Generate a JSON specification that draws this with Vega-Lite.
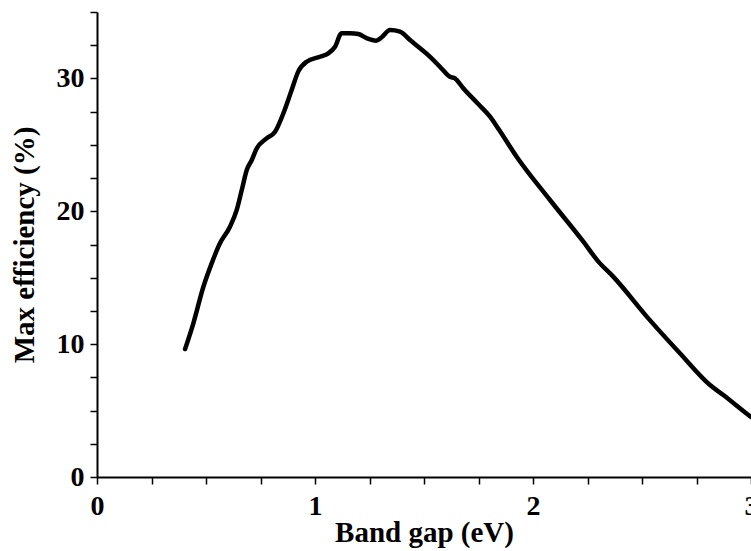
{
  "$schema": "https://vega.github.io/schema/vega-lite/v6.json",
  "autosize": "none",
  "padding": {"left": 97, "top": 12, "right": 0, "bottom": 74},
  "width": 654,
  "height": 465,
  "background": "white",
  "config": {"view": {"stroke": null}},
  "data": {"values": [
    {"gap": 0.404, "eff": 9.63},
    {"gap": 0.442, "eff": 11.57},
    {"gap": 0.488, "eff": 14.32},
    {"gap": 0.526, "eff": 16.08},
    {"gap": 0.564, "eff": 17.59},
    {"gap": 0.610, "eff": 18.84},
    {"gap": 0.641, "eff": 20.10},
    {"gap": 0.664, "eff": 21.60},
    {"gap": 0.687, "eff": 23.11},
    {"gap": 0.710, "eff": 23.86},
    {"gap": 0.733, "eff": 24.74},
    {"gap": 0.778, "eff": 25.49},
    {"gap": 0.817, "eff": 25.99},
    {"gap": 0.855, "eff": 27.38},
    {"gap": 0.893, "eff": 29.13},
    {"gap": 0.923, "eff": 30.51},
    {"gap": 0.962, "eff": 31.26},
    {"gap": 1.023, "eff": 31.63},
    {"gap": 1.061, "eff": 31.89},
    {"gap": 1.092, "eff": 32.39},
    {"gap": 1.122, "eff": 33.40},
    {"gap": 1.161, "eff": 33.40},
    {"gap": 1.199, "eff": 33.34},
    {"gap": 1.238, "eff": 33.02},
    {"gap": 1.280, "eff": 32.84},
    {"gap": 1.306, "eff": 33.10},
    {"gap": 1.344, "eff": 33.64},
    {"gap": 1.390, "eff": 33.52},
    {"gap": 1.436, "eff": 32.89},
    {"gap": 1.482, "eff": 32.27},
    {"gap": 1.528, "eff": 31.63},
    {"gap": 1.573, "eff": 30.88},
    {"gap": 1.619, "eff": 30.13},
    {"gap": 1.642, "eff": 30.01},
    {"gap": 1.680, "eff": 29.26},
    {"gap": 1.742, "eff": 28.19},
    {"gap": 1.803, "eff": 27.12},
    {"gap": 1.845, "eff": 26.12},
    {"gap": 1.925, "eff": 24.11},
    {"gap": 2.078, "eff": 20.85},
    {"gap": 2.231, "eff": 17.71},
    {"gap": 2.300, "eff": 16.21},
    {"gap": 2.368, "eff": 15.08},
    {"gap": 2.522, "eff": 12.07},
    {"gap": 2.674, "eff": 9.31},
    {"gap": 2.812, "eff": 6.92},
    {"gap": 2.873, "eff": 6.17},
    {"gap": 2.988, "eff": 4.67},
    {"gap": 3.0, "eff": 4.52}
  ]},
  "mark": {"type": "line", "color": "black", "strokeWidth": 4.5, "strokeCap": "round", "strokeJoin": "round", "interpolate": "monotone", "clip": true},
  "encoding": {
    "x": {
      "field": "gap", "type": "quantitative",
      "scale": {"domain": [0, 3], "nice": false, "zero": false},
      "axis": {
        "title": "Band gap (eV)",
        "values": [0, 0.25, 0.5, 0.75, 1, 1.25, 1.5, 1.75, 2, 2.25, 2.5, 2.75, 3],
        "labelExpr": "datum.value % 1 === 0 ? format(datum.value, 'd') : ''",
        "grid": false,
        "domainColor": "black", "domainWidth": 2,
        "tickColor": "black", "tickWidth": 1.5, "tickSize": 7,
        "labelFont": "Liberation Serif", "labelFontWeight": "bold", "labelFontSize": 28, "labelColor": "black",
        "labelPadding": 8, "labelFlush": false, "labelOverlap": false,
        "titleFont": "Liberation Serif", "titleFontWeight": "bold", "titleFontSize": 29, "titleColor": "black",
        "titlePadding": -2
      }
    },
    "y": {
      "field": "eff", "type": "quantitative",
      "scale": {"domain": [0, 35], "nice": false, "zero": true},
      "axis": {
        "title": "Max efficiency (%)",
        "values": [0, 2.5, 5, 7.5, 10, 12.5, 15, 17.5, 20, 22.5, 25, 27.5, 30, 32.5, 35],
        "labelExpr": "datum.value % 10 === 0 ? format(datum.value, 'd') : ''",
        "grid": false,
        "domainColor": "black", "domainWidth": 2,
        "tickColor": "black", "tickWidth": 1.5, "tickSize": 7,
        "labelFont": "Liberation Serif", "labelFontWeight": "bold", "labelFontSize": 28, "labelColor": "black",
        "labelPadding": 6, "labelFlush": false, "labelOverlap": false,
        "titleFont": "Liberation Serif", "titleFontWeight": "bold", "titleFontSize": 29, "titleColor": "black",
        "titlePadding": 17
      }
    }
  }
}
